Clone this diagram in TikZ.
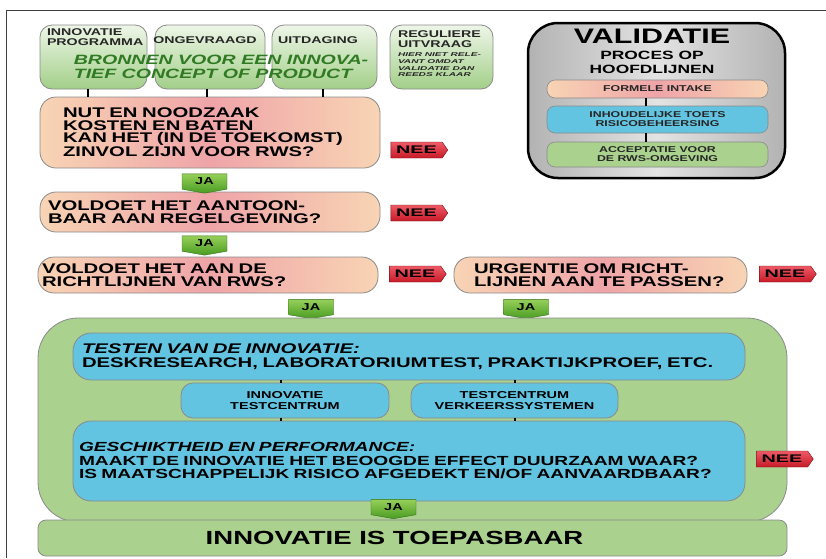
\documentclass[tikz,border=0pt]{standalone}
\usepackage{fontspec}
\usetikzlibrary{shapes.symbols,calc}
\newfontfamily\wf{Liberation Sans}[FakeStretch=1.45]
\newfontfamily\wfn{Liberation Sans}[FakeStretch=1.8]
\definecolor{peach}{HTML}{F8D4B4}
\definecolor{rose}{HTML}{EFA4A8}
\definecolor{skyb}{HTML}{63C4E1}
\definecolor{leaf}{HTML}{AAD18E}
\definecolor{leafl}{HTML}{EEF6E8}
\definecolor{leafd}{HTML}{A2CF88}
\definecolor{neer}{HTML}{C81A28}
\definecolor{neel}{HTML}{EE5A66}
\definecolor{jal}{HTML}{96D05A}
\definecolor{jad}{HTML}{4A9C22}
\definecolor{darkgr}{HTML}{2F7A22}
\definecolor{edge}{HTML}{8A8A8A}
\newcommand{\fsz}[2]{\fontsize{#1}{#2}\selectfont}
\begin{document}
\begin{tikzpicture}[x=1pt,y=-1pt,
  every node/.style={inner sep=0pt, outer sep=0pt},
  srcbox/.style={draw=edge, line width=0.8pt, rounded corners=12pt, top color=leafl, bottom color=leafd, minimum height=64pt},
  srctxt/.style={align=left, text=black!85, font=\wf\bfseries\fsz{9.8}{10}},
  tinytxt/.style={align=left, text=black!85, font=\wfn\bfseries\itshape\fsz{5.6}{6.6}},
  bron/.style={align=left, text=darkgr, font=\wf\bfseries\itshape\fsz{13.5}{14}},
  qbox/.style={draw=edge, line width=0.8pt, rounded corners=16pt, left color=peach, right color=peach, middle color=rose, align=left, font=\wf\bfseries\fsz{14}{12.5}},
  neetag/.style={signal, signal to=east, signal pointer angle=110, draw=neer!60!black, line width=0.4pt, top color=neel, bottom color=neer, minimum width=57pt, minimum height=16pt, font=\wfn\bfseries\fsz{11}{11}},
  jatag/.style={signal, signal to=south, signal pointer angle=160, draw=jad!70!black, line width=0.4pt, top color=jal, bottom color=jad, minimum width=45pt, minimum height=17pt, font=\wf\bfseries\fsz{10}{10}},
  cont/.style={draw=edge, line width=0.8pt, fill=leaf, rounded corners=40pt},
  bluebig/.style={draw=edge, line width=0.8pt, fill=skyb, rounded corners=18pt, align=left, font=\wf\bfseries\fsz{14}{13.5}},
  bluesm/.style={draw=edge, line width=0.8pt, fill=skyb, rounded corners=12pt, align=center, font=\wf\bfseries\fsz{10}{11}},
  finalbox/.style={draw=edge, line width=0.8pt, fill=leaf, rounded corners=8pt, font=\wf\bfseries\fsz{19}{19}},
  valbox/.style={draw=black, line width=2.5pt, rounded corners=30pt, left color=gray!60, right color=gray!60, middle color=gray!22},
  vbar/.style={draw=edge, line width=0.6pt, rounded corners=8pt, minimum width=221pt, align=center, text=black!85, font=\wf\bfseries\fsz{8.5}{9}},
  conn/.style={line width=2pt, black}
]
\useasboundingbox (0,0) rectangle (826,558);
\draw[line width=1pt, black!75] (6,558) -- (6,10) -- (826,10);

% source boxes
\node[srcbox, minimum width=107pt] (src1) at (93.5,57) {};
\node[srcbox, minimum width=110pt] (src2) at (210,57) {};
\node[srcbox, minimum width=105pt] (src3) at (324.5,57) {};
\node[srcbox, minimum width=103pt] (src4) at (441.5,57) {};
\node[srctxt, anchor=north west] (t1) at (47,29) {INNOVATIE\\PROGRAMMA};
\node[srctxt] (t2) at (205,40) {ONGEVRAAGD};
\node[srctxt] (t3) at (318,40) {UITDAGING};
\node[srctxt, anchor=north west] (t4) at (398,31) {REGULIERE\\UITVRAAG};
\node[tinytxt, anchor=north west] (t4b) at (398,53) {HIER NIET RELE-\\VANT OMDAT\\VALIDATIE DAN\\REEDS KLAAR};
\node[bron] (bron) at (221,67) {BRONNEN VOOR EEN INNOVA-\\TIEF CONCEPT OF PRODUCT};

% questions
\node[qbox, minimum width=340pt, minimum height=71pt, text width=294pt] (q1) at (210,132.5) {NUT EN NOODZAAK\\KOSTEN EN BATEN\\KAN HET (IN DE TOEKOMST)\\ZINVOL ZIJN VOOR RWS?};
\node[qbox, minimum width=340pt, minimum height=40pt, text width=324pt] (q2) at (210,212) {VOLDOET HET AANTOON-\\BAAR AAN REGELGEVING?};
\node[qbox, minimum width=340pt, minimum height=36pt, text width=332pt] (q3) at (208,275) {VOLDOET HET AAN DE\\RICHTLIJNEN VAN RWS?};
\node[qbox, minimum width=293pt, minimum height=36pt, text width=253pt] (q4) at (600.5,275) {URGENTIE OM RICHT-\\LIJNEN AAN TE PASSEN?};

\draw[conn] ([xshift=-5.5pt]src1.south) -- ([xshift=-5.5pt]src1.south |- q1.north);
\draw[conn] ([xshift=-3pt]src2.south) -- ([xshift=-3pt]src2.south |- q1.north);
\draw[conn] ([xshift=-1.5pt]src3.south) -- ([xshift=-1.5pt]src3.south |- q1.north);

\node[neetag] (n1) at (416.5,150) {NEE};
\node[neetag] (n2) at (416.5,213) {NEE};
\node[neetag] (n3) at (415,274) {NEE};
\node[neetag] (n4) at (785,274) {NEE};
\node[jatag] (j1) at (204.5,181.5) {JA};
\node[jatag] (j2) at (204.5,243.5) {JA};
\node[jatag] (j3) at (311,307) {JA};
\node[jatag] (j4) at (526,307) {JA};

% testing container
\node[cont, minimum width=749pt, minimum height=204pt] (box) at (412.5,420) {};
\node[bluebig, minimum width=672pt, minimum height=47pt, text width=654pt] (b1) at (409,356.5) {{\itshape TESTEN VAN DE INNOVATIE:}\\DESKRESEARCH, LABORATORIUMTEST, PRAKTIJKPROEF, ETC.};
\node[bluesm, minimum width=208pt, minimum height=35pt] (s1) at (285,400.5) {INNOVATIE\\TESTCENTRUM};
\node[bluesm, minimum width=207pt, minimum height=35pt] (s2) at (514.5,400.5) {TESTCENTRUM\\VERKEERSSYSTEMEN};
\node[bluebig, minimum width=672pt, minimum height=80pt, text width=660pt, font=\wf\bfseries\fsz{13.2}{13.5}] (b2) at (409,461) {{\itshape GESCHIKTHEID EN PERFORMANCE:}\\MAAKT DE INNOVATIE HET BEOOGDE EFFECT DUURZAAM WAAR?\\IS MAATSCHAPPELIJK RISICO AFGEDEKT EN/OF AANVAARDBAAR?};
\draw[conn] ([xshift=-4pt]s1.north) -- ([xshift=-4pt]s1.north |- b1.south);
\draw[conn] ([xshift=-4pt]s1.south) -- ([xshift=-4pt]s1.south |- b2.north);
\draw[conn] (s2.north) -- (s2.north |- b1.south);
\draw[conn] (s2.south) -- (s2.south |- b2.north);
\node[neetag] (n5) at (782,459) {NEE};
\node[jatag] (j5) at (393.5,507) {JA};
\node[finalbox, minimum width=749pt, minimum height=36pt] (fin) at (412.5,538) {\hspace*{-36pt}INNOVATIE IS TOEPASBAAR};

% validatie
\node[valbox, minimum width=257pt, minimum height=155pt] (val) at (656.5,100.5) {};
\node[font=\wf\bfseries\fsz{21}{21}] (valt) at (652,36) {VALIDATIE};
\node[font=\wf\bfseries\fsz{12}{14}, align=center] (valp) at (652,62) {PROCES OP\\HOOFDLIJNEN};
\node[vbar, left color=peach, right color=peach, middle color=rose, minimum height=18pt] (v1) at (657.5,89) {FORMELE INTAKE};
\node[vbar, fill=skyb, minimum height=27pt] (v2) at (657.5,119.5) {INHOUDELIJKE TOETS\\RISICOBEHEERSING};
\node[vbar, fill=leaf, minimum height=25pt] (v3) at (657.5,154.5) {ACCEPTATIE VOOR\\DE RWS-OMGEVING};
\draw[line width=2.5pt] ([xshift=-11.5pt]v1.south) -- ([xshift=-11.5pt]v1.south |- v2.north);
\draw[line width=2.5pt] ([xshift=-11.5pt]v2.south) -- ([xshift=-11.5pt]v2.south |- v3.north);
\end{tikzpicture}
\end{document}
